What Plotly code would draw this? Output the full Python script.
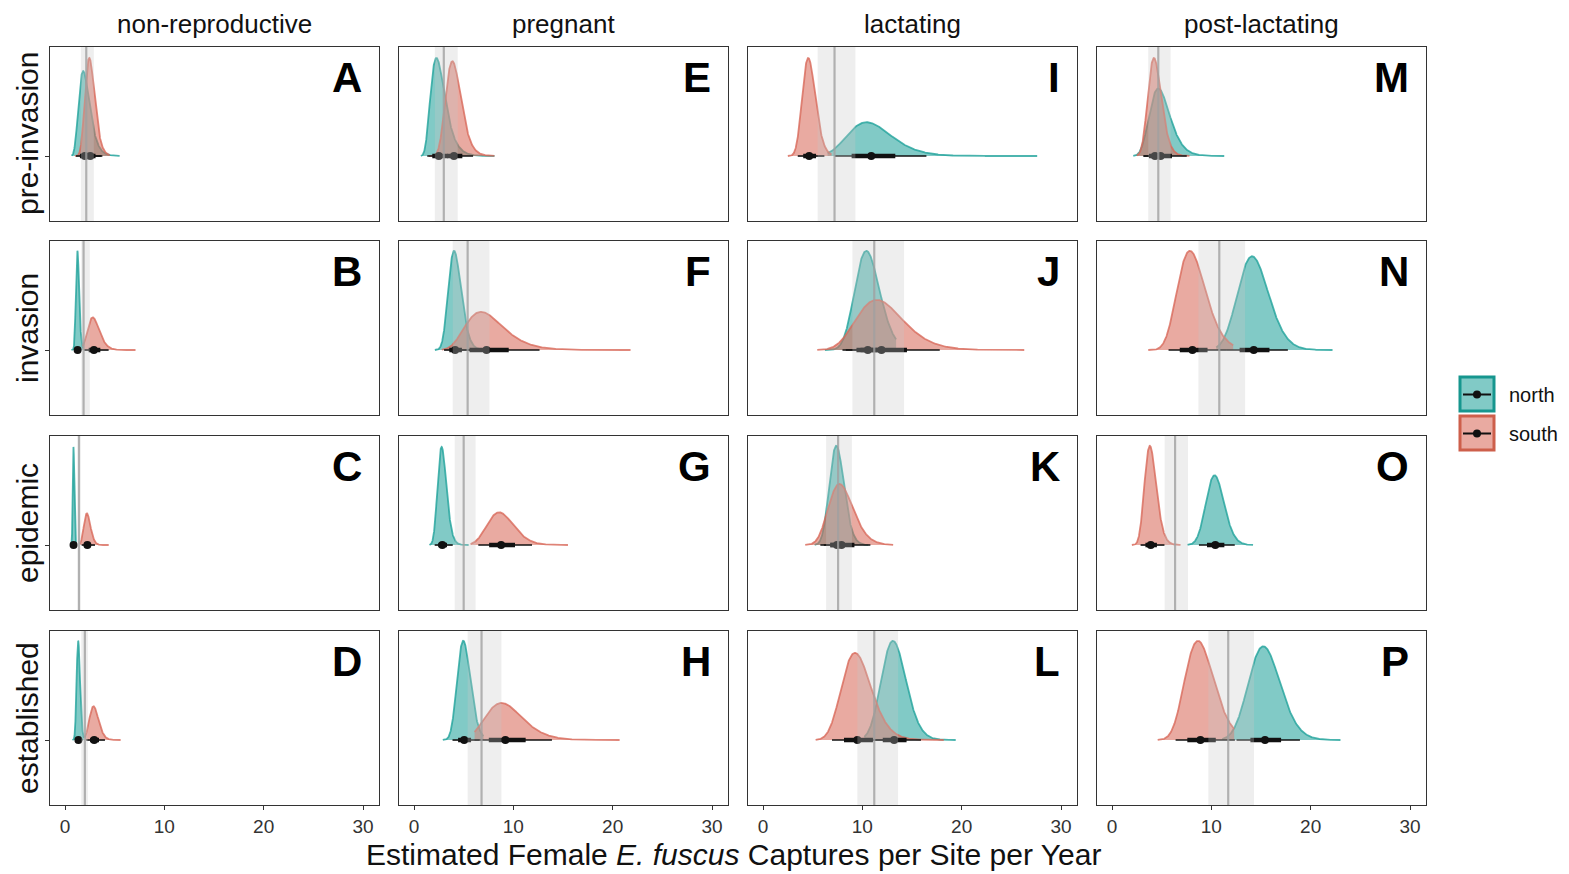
import numpy as np
import plotly.graph_objects as go

# page body has an 8px margin; figure is offset by it
OFF = 8
W, H = 1569 - 2 * OFF, 874 - OFF
FONT = "Liberation Sans, Arial, sans-serif"

col_titles = ["non-reproductive", "pregnant", "lactating", "post-lactating"]
row_titles = ["pre-invasion", "invasion", "epidemic", "established"]
# panels listed column by column: A,B,C,D | E,F,G,H | I,J,K,L | M,N,O,P
letters = list("ABCDEFGHIJKLMNOP")
x_ticks = [0, 10, 20, 30]

north_median = [2.0, 1.27, 0.86, 1.35, 2.5, 4.14, 2.85, 5.05, 10.9, 10.55, 7.45, 13.2, 4.89, 14.27, 10.4, 15.4]
north_sigma = [0.30, 0.13, 0.09, 0.13, 0.32, 0.16, 0.16, 0.135, 0.21, 0.12, 0.10, 0.095, 0.22, 0.11, 0.088, 0.105]
north_peak = [0.78, 0.91, 0.90, 0.91, 0.90, 0.91, 0.90, 0.91, 0.31, 0.91, 0.91, 0.91, 0.62, 0.86, 0.64, 0.86]
north_min = [0.67, 0.65, 0.6, 0.75, 0.7, 2.1, 1.56, 2.9, 6.5, 6.23, 5.2, 10.2, 2.14, 10.5, 7.6, 11.1]
north_max = [5.5, 1.8, 1.1, 1.9, 8.1, 6.6, 5.5, 7.0, 27.6, 13.4, 10.6, 19.4, 11.3, 22.2, 14.2, 23.0]

south_median = [2.54, 2.91, 2.25, 2.94, 4.02, 7.3, 8.77, 9.2, 4.65, 11.93, 7.9, 9.5, 4.33, 8.1, 3.9, 8.9]
south_sigma = [0.2, 0.21, 0.15, 0.16, 0.2, 0.28, 0.155, 0.21, 0.145, 0.204, 0.16, 0.16, 0.16, 0.18, 0.155, 0.168]
south_peak = [0.90, 0.30, 0.29, 0.31, 0.87, 0.35, 0.30, 0.34, 0.90, 0.46, 0.56, 0.80, 0.90, 0.91, 0.91, 0.91]
south_min = [1.0, 1.8, 1.5, 2.0, 1.5, 2.8, 5.7, 6.1, 2.5, 5.46, 4.25, 5.3, 2.5, 3.65, 2.0, 4.6]
south_max = [4.5, 7.1, 4.4, 5.6, 8.1, 21.8, 15.5, 20.7, 6.9, 26.3, 13.1, 18.2, 7.8, 12.2, 6.9, 12.3]

overall_mean = [2.14, 1.87, 1.4, 2.0, 3.0, 5.4, 5.0, 6.8, 7.2, 11.2, 7.56, 11.2, 4.66, 10.8, 6.35, 11.7]
overall_lo = [1.6, 1.64, 1.3, 1.64, 2.1, 3.9, 4.1, 5.4, 5.5, 9.0, 6.35, 9.5, 3.65, 8.7, 5.3, 9.7]
overall_hi = [2.9, 2.5, 1.6, 2.3, 4.4, 7.6, 6.2, 8.8, 9.3, 14.2, 8.95, 13.6, 5.9, 13.4, 7.65, 14.3]

NORTH = (33, 162, 155)
SOUTH = (216, 105, 90)
NORTH_DARK = (22, 150, 142)
SOUTH_DARK = (205, 95, 75)
Z66, Z95 = 0.954, 1.96

col_px = [(50, 379), (399, 728), (748, 1077), (1097, 1426)]
row_px = [(47, 221), (241, 415), (436, 610), (631, 805)]
XR = [-1.51, 31.61]
YR = [-0.596, 1.0]


def px(p):
    return (p - OFF) / W


def py(p):
    return 1 - (p - OFF) / H


def rgba(c, a):
    return f"rgba({c[0]},{c[1]},{c[2]},{a})"


def slab_curve(med, sig, peak, lo, hi):
    xs = np.linspace(lo, hi, 400)
    pdf = np.exp(-(np.log(xs / med)) ** 2 / (2 * sig ** 2)) / xs
    return xs, pdf / pdf.max() * peak


fig = go.Figure()
layout = {}
shapes = []
ann = []

for c in range(4):
    for r in range(4):
        i = c * 4 + r
        k = r * 4 + c + 1
        sx = "" if k == 1 else str(k)
        xa, ya = "x" + sx, "y" + sx
        x0, x1 = col_px[c]
        y0, y1 = row_px[r]
        layout["xaxis" + sx] = dict(
            domain=[px(x0), px(x1)], range=XR, anchor=ya, showgrid=False, zeroline=False,
            showline=True, mirror=True, linecolor="#333", linewidth=1.2,
            tickvals=x_ticks, ticks="outside" if r == 3 else "", ticklen=4, tickcolor="#333",
            showticklabels=(r == 3), tickfont=dict(size=19, color="#333", family=FONT),
        )
        layout["yaxis" + sx] = dict(
            domain=[py(y1), py(y0)], range=YR, anchor=xa, showgrid=False, zeroline=False,
            showline=True, mirror=True, linecolor="#333", linewidth=1.2,
            tickvals=[0], ticks="outside" if c == 0 else "", ticklen=4, tickcolor="#333",
            showticklabels=False,
        )
        groups = [
            (north_median[i], north_sigma[i], north_peak[i], north_min[i], north_max[i], NORTH),
            (south_median[i], south_sigma[i], south_peak[i], south_min[i], south_max[i], SOUTH),
        ]
        for med, sig, pk, lo, hi, col in groups:
            xs, ys = slab_curve(med, sig, pk, lo, hi)
            fig.add_trace(go.Scatter(
                x=xs, y=ys, mode="lines", fill="tozeroy", fillcolor=rgba(col, 0.57),
                line=dict(color=rgba(col, 0.8), width=1.8), xaxis=xa, yaxis=ya,
                hoverinfo="skip", showlegend=False))
        for med, sig, pk, lo, hi, col in groups:
            fig.add_trace(go.Scatter(
                x=[med * np.exp(-Z95 * sig), med * np.exp(Z95 * sig)], y=[0, 0], mode="lines",
                line=dict(color="#111", width=1.6), xaxis=xa, yaxis=ya, showlegend=False))
            fig.add_trace(go.Scatter(
                x=[med * np.exp(-Z66 * sig), med * np.exp(Z66 * sig)], y=[0, 0], mode="lines",
                line=dict(color="#111", width=4.5), xaxis=xa, yaxis=ya, showlegend=False))
            fig.add_trace(go.Scatter(
                x=[med], y=[0], mode="markers", marker=dict(color="#111", size=8),
                xaxis=xa, yaxis=ya, showlegend=False))
        shapes.append(dict(type="rect", xref=xa, yref=ya + " domain", x0=overall_lo[i], x1=overall_hi[i],
                           y0=0, y1=1, fillcolor="rgba(200,200,200,0.3)", line=dict(width=0), layer="above"))
        shapes.append(dict(type="line", xref=xa, yref=ya + " domain", x0=overall_mean[i], x1=overall_mean[i],
                           y0=0, y1=1, line=dict(color="rgba(160,160,160,0.8)", width=2.2), layer="above"))
        ann.append(dict(text="<b>" + letters[i] + "</b>", xref="paper", yref="paper",
                        x=px(x1 - 15), y=py(y0 + 30), xanchor="right", yanchor="middle", showarrow=False,
                        font=dict(size=42, color="black", family=FONT)))

for c in range(4):
    cx = (col_px[c][0] + col_px[c][1]) / 2
    ann.append(dict(text=col_titles[c], xref="paper", yref="paper", x=px(cx), y=py(24),
                    xanchor="center", yanchor="middle", showarrow=False,
                    font=dict(size=26, color="#111", family=FONT)))
for r in range(4):
    cy = (row_px[r][0] + row_px[r][1]) / 2
    ann.append(dict(text=row_titles[r], xref="paper", yref="paper", x=px(27), y=py(cy), textangle=-90,
                    xanchor="center", yanchor="middle", showarrow=False,
                    font=dict(size=30, color="#111", family=FONT)))
ann.append(dict(text="Estimated Female <i>E. fuscus</i> Captures per Site per Year", xref="paper", yref="paper",
                x=px(733), y=py(854), xanchor="center", yanchor="middle", showarrow=False,
                font=dict(size=30, color="#111", family=FONT)))

# legend
legend_items = [("north", NORTH, NORTH_DARK, 377), ("south", SOUTH, SOUTH_DARK, 416)]
for name, col, dark, top in legend_items:
    shapes.append(dict(type="rect", xref="paper", yref="paper", x0=px(1460), x1=px(1494),
                       y0=py(top + 34), y1=py(top), fillcolor=rgba(col, 0.57),
                       line=dict(color=f"rgb({dark[0]},{dark[1]},{dark[2]})", width=3)))
    cy = top + 17.5
    shapes.append(dict(type="line", xref="paper", yref="paper", x0=px(1463), x1=px(1491),
                       y0=py(cy), y1=py(cy), line=dict(color="#111", width=2)))
    shapes.append(dict(type="circle", xref="paper", yref="paper", x0=px(1473), x1=px(1481),
                       y0=py(cy + 4), y1=py(cy - 4), fillcolor="#111", line=dict(width=0)))
    ann.append(dict(text=name, xref="paper", yref="paper", x=px(1507), y=py(cy),
                    xanchor="left", yanchor="middle", showarrow=False,
                    font=dict(size=20, color="#111", family=FONT)))

fig.update_layout(width=W, height=H, margin=dict(l=0, r=0, t=0, b=0), plot_bgcolor="white",
                  paper_bgcolor="white", showlegend=False, shapes=shapes, annotations=ann,
                  font=dict(family=FONT), **layout)
fig.write_html("out.html")
